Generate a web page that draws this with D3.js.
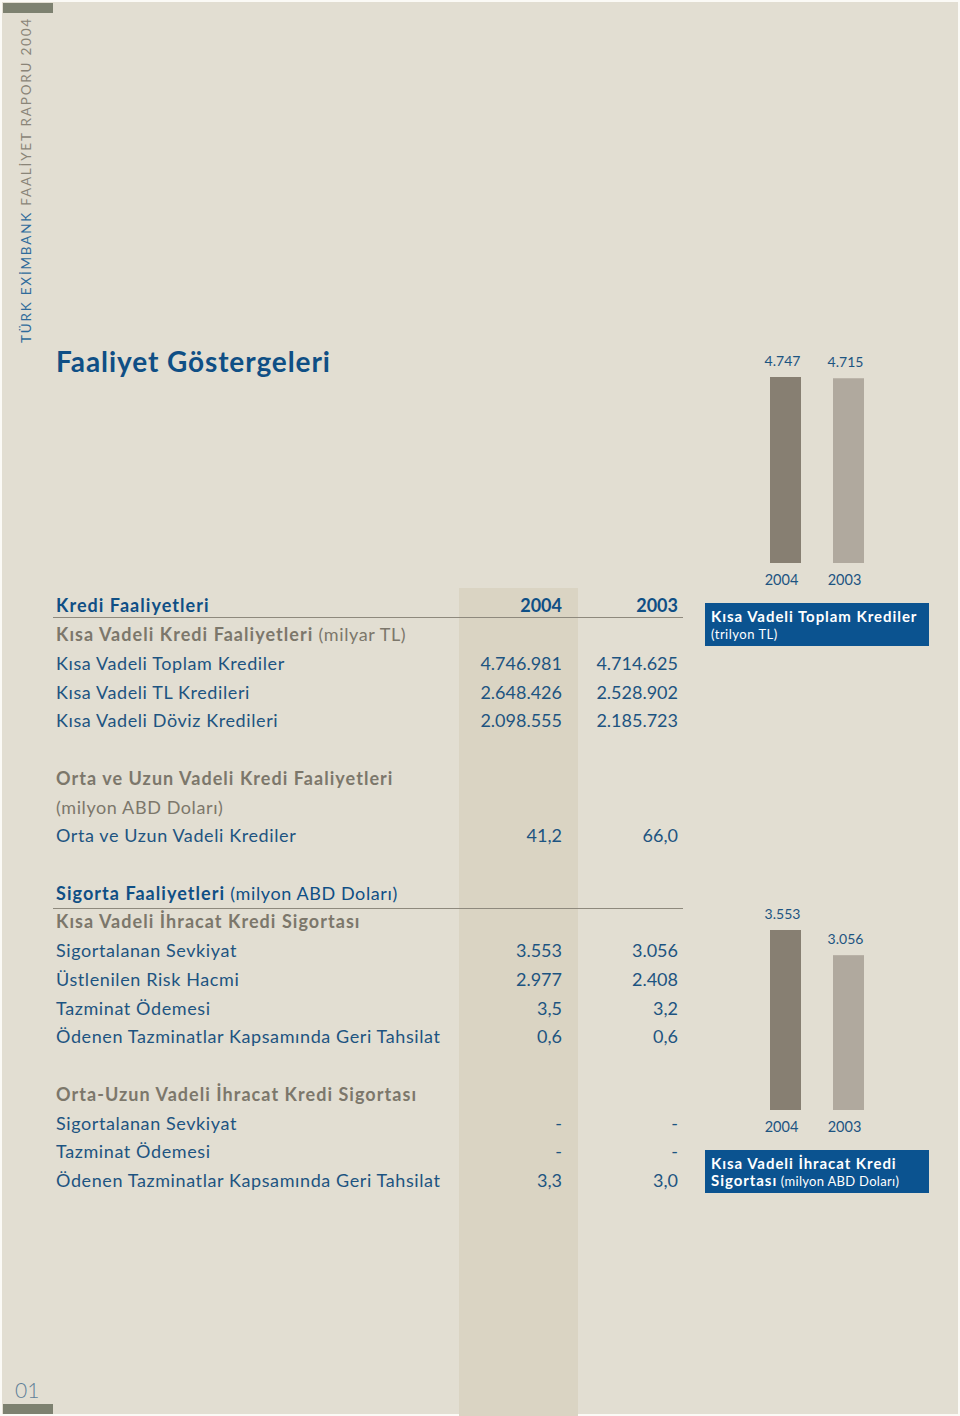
<!DOCTYPE html>
<html><head><meta charset="utf-8">
<script src="https://cdn.jsdelivr.net/npm/d3@7"></script>
<style>
html,body{margin:0;padding:0;background:#fbfaf6;}
svg{display:block;font-family:Lato,"Open Sans",sans-serif;}
</style></head>
<body>
<script>
// ---------- DATA ----------
const years = ["2004", "2003"];
const pageTitle = "Faaliyet Göstergeleri";
const sideBlue = "TÜRK EXİMBANK";
const sideGray = " FAALİYET RAPORU 2004";
const pageNumber = "01";

const creditHeader = ["Kredi Faaliyetleri"];
const shortCreditSub = ["Kısa Vadeli Kredi Faaliyetleri", " (milyar TL)"];
const shortCreditLabels = ["Kısa Vadeli Toplam Krediler", "Kısa Vadeli TL Kredileri", "Kısa Vadeli Döviz Kredileri"];
const shortCredit2004 = ["4.746.981", "2.648.426", "2.098.555"];
const shortCredit2003 = ["4.714.625", "2.528.902", "2.185.723"];

const longCreditSub = ["Orta ve Uzun Vadeli Kredi Faaliyetleri", "(milyon ABD Doları)"];
const longCreditLabels = ["Orta ve Uzun Vadeli Krediler"];
const longCredit2004 = ["41,2"];
const longCredit2003 = ["66,0"];

const insuranceHeader = ["Sigorta Faaliyetleri", " (milyon ABD Doları)"];
const shortInsSub = ["Kısa Vadeli İhracat Kredi Sigortası"];
const shortInsLabels = ["Sigortalanan Sevkiyat", "Üstlenilen Risk Hacmi", "Tazminat Ödemesi", "Ödenen Tazminatlar Kapsamında Geri Tahsilat"];
const shortIns2004 = ["3.553", "2.977", "3,5", "0,6"];
const shortIns2003 = ["3.056", "2.408", "3,2", "0,6"];

const longInsSub = ["Orta-Uzun Vadeli İhracat Kredi Sigortası"];
const longInsLabels = ["Sigortalanan Sevkiyat", "Tazminat Ödemesi", "Ödenen Tazminatlar Kapsamında Geri Tahsilat"];
const longIns2004 = ["-", "-", "3,3"];
const longIns2003 = ["-", "-", "3,0"];

const chart1Values = [4747, 4715];
const chart1Labels = ["4.747", "4.715"];
const chart1Title = ["Kısa Vadeli Toplam Krediler"];
const chart1Sub = ["(trilyon TL)"];

const chart2Values = [3553, 3056];
const chart2Labels = ["3.553", "3.056"];
const chart2Title = ["Kısa Vadeli İhracat Kredi"];
const chart2Sub = ["Sigortası", " (milyon ABD Doları)"];

// ---------- STYLE ----------
const C = {
  bg: "#e2ded2", band: "#dad4c3", blue: "#1d5481", navy: "#0f4f85",
  gray: "#7c776b", rule: "#8e897d", bar04: "#877f72", bar03: "#b0a99e",
  box: "#0b5390", accent: "#7d8170", side: "#8a8578", num: "#5f7f98"
};

const W = 960, H = 1416;
const svg = d3.select("body").append("svg").attr("width", W).attr("height", H);

svg.append("rect").attr("x", 2).attr("y", 2).attr("width", W - 4).attr("height", H - 4).attr("fill", C.bg);

svg.append("rect").attr("x", 3).attr("y", 3).attr("width", 50).attr("height", 10).attr("fill", C.accent);
svg.append("rect").attr("x", 3).attr("y", 1404).attr("width", 50).attr("height", 10).attr("fill", C.accent);

svg.append("rect").attr("x", 459).attr("y", 588).attr("width", 119).attr("height", H - 588).attr("fill", C.band);

const side = svg.append("text").attr("transform", "translate(31,343) rotate(-90)")
  .attr("font-size", 13.5).attr("letter-spacing", 1.8);
side.append("tspan").attr("fill", "#2f6b9b").text(sideBlue);
side.append("tspan").attr("fill", C.side).text(sideGray);

svg.append("text").attr("x", 56).attr("y", 372).attr("font-size", 28).attr("font-weight", 700)
  .attr("letter-spacing", 0.9).attr("fill", C.navy).text(pageTitle);

svg.append("text").attr("x", 15).attr("y", 1398).attr("font-size", 21).attr("font-weight", 300)
  .attr("fill", C.num).text(pageNumber);

// ---------- TABLE ----------
const rowY = d3.scaleLinear().domain([0, 20]).range([606, 1180.5]);
const colX = d3.scalePoint().domain(years).range([562, 678]);
const FS = 18;

function textRow(i, parts, opts = {}) {
  const t = svg.append("text").attr("x", 56).attr("y", rowY(i)).attr("dy", "0.36em").attr("font-size", FS);
  parts.forEach((p, k) => {
    const bold = opts.boldFirst && k === 0;
    t.append("tspan").attr("font-weight", bold ? 700 : 400)
      .attr("letter-spacing", bold ? 1.05 : 0.6)
      .attr("fill", opts.color || C.blue).text(p);
  });
  return t;
}
function valueRows(startIdx, labels, v04, v03) {
  labels.forEach((lab, k) => {
    const i = startIdx + k;
    textRow(i, [lab]);
    [v04[k], v03[k]].forEach((v, j) => {
      svg.append("text").attr("x", colX(years[j])).attr("y", rowY(i)).attr("dy", "0.36em")
        .attr("text-anchor", "end").attr("font-size", FS).attr("fill", C.blue).text(v);
    });
  });
}

textRow(0, creditHeader, { boldFirst: true, color: C.navy });
years.forEach(y => svg.append("text").attr("x", colX(y)).attr("y", rowY(0)).attr("dy", "0.36em")
  .attr("text-anchor", "end").attr("font-size", FS).attr("font-weight", 700).attr("fill", C.navy).text(y));
svg.append("line").attr("x1", 53).attr("x2", 683).attr("y1", 617.5).attr("y2", 617.5).attr("stroke", C.rule).attr("stroke-width", 1.2);
textRow(1, shortCreditSub, { boldFirst: true, color: C.gray });
valueRows(2, shortCreditLabels, shortCredit2004, shortCredit2003);

textRow(6, [longCreditSub[0]], { boldFirst: true, color: C.gray });
textRow(7, [longCreditSub[1]], { color: C.gray });
valueRows(8, longCreditLabels, longCredit2004, longCredit2003);

textRow(10, insuranceHeader, { boldFirst: true, color: C.navy });
svg.append("line").attr("x1", 53).attr("x2", 683).attr("y1", 908.5).attr("y2", 908.5).attr("stroke", C.rule).attr("stroke-width", 1.2);
textRow(11, shortInsSub, { boldFirst: true, color: C.gray });
valueRows(12, shortInsLabels, shortIns2004, shortIns2003);

textRow(17, longInsSub, { boldFirst: true, color: C.gray });
valueRows(18, longInsLabels, longIns2004, longIns2003);

// ---------- BAR CHARTS ----------
const xBar = d3.scaleBand().domain(years).range([770, 864]).paddingInner(32 / 63).paddingOuter(0);
const barColor = d3.scaleOrdinal().domain(years).range([C.bar04, C.bar03]);

function barChart(values, labels, baseY, heightFor, titleLines, subParts) {
  const maxV = d3.max(values);
  const y = d3.scaleLinear().domain([0, maxV]).range([baseY, baseY - heightFor]);
  const g = svg.append("g");
  g.selectAll("rect.bar").data(values).join("rect").attr("class", "bar")
    .attr("x", (d, i) => xBar(years[i])).attr("width", xBar.bandwidth())
    .attr("y", d => y(d)).attr("height", d => baseY - y(d)).attr("fill", (d, i) => barColor(years[i]));
  g.selectAll("text.val").data(values).join("text").attr("class", "val")
    .attr("x", (d, i) => xBar(years[i]) + xBar.bandwidth() / 2 - 3).attr("y", d => y(d) - 11)
    .attr("text-anchor", "middle").attr("font-size", 14).attr("fill", C.blue).text((d, i) => labels[i]);
  g.selectAll("text.yr").data(years).join("text").attr("class", "yr")
    .attr("x", d => xBar(d) + xBar.bandwidth() / 2 - 4).attr("y", baseY + 22)
    .attr("text-anchor", "middle").attr("font-size", 14.5).attr("fill", C.blue).text(d => d);
  g.append("rect").attr("x", 705).attr("y", baseY + 40).attr("width", 224).attr("height", 43).attr("fill", C.box);
  g.append("text").attr("x", 711).attr("y", baseY + 59).attr("font-size", 15).attr("font-weight", 700)
    .attr("fill", "#fff").attr("letter-spacing", 0.95).text(titleLines[0]);
  const s = g.append("text").attr("x", 711).attr("y", baseY + 76).attr("fill", "#fff");
  if (subParts.length === 1) {
    s.append("tspan").attr("font-size", 13).attr("letter-spacing", 0.5).text(subParts[0]);
  } else {
    s.append("tspan").attr("font-size", 15).attr("font-weight", 700).attr("letter-spacing", 0.95).text(subParts[0]);
    s.append("tspan").attr("font-size", 13).attr("letter-spacing", 0.3).text(subParts[1]);
  }
}

barChart(chart1Values, chart1Labels, 563, 186, chart1Title, chart1Sub);
barChart(chart2Values, chart2Labels, 1110, 180, chart2Title, chart2Sub);
</script>
</body></html>
